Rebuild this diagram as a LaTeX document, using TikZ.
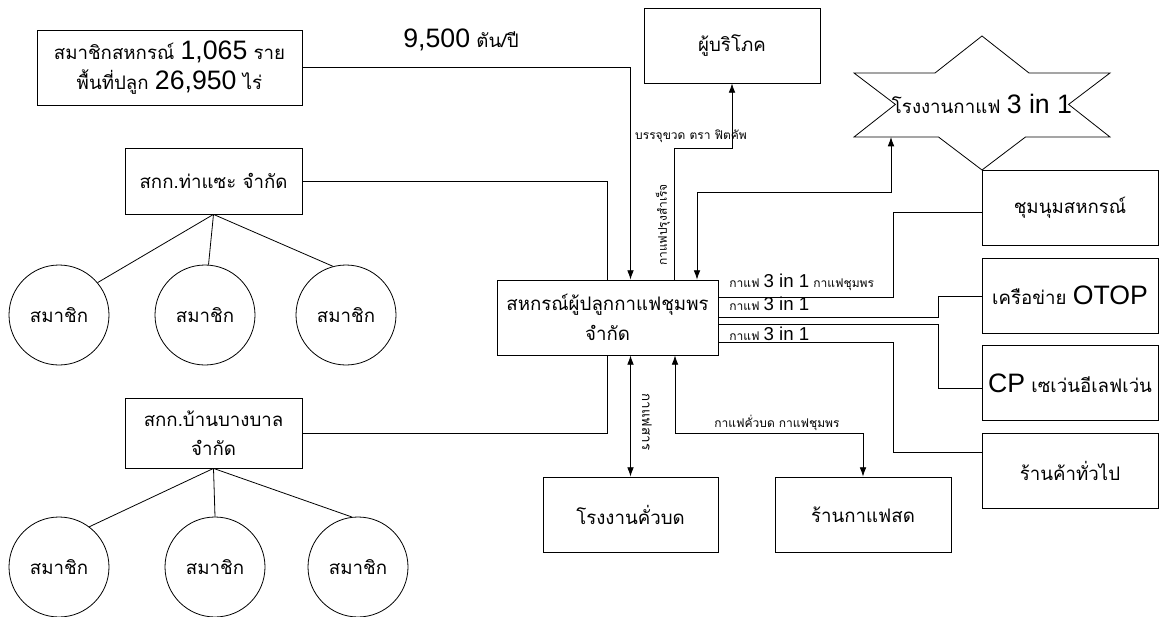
\documentclass[tikz,border=0pt]{standalone}
\usepackage{fontspec}
\setmainfont[Script=Thai]{Loma}
\newfontfamily\arial{Liberation Sans}
\usepackage{tikz}
\usetikzlibrary{arrows.meta,calc}
\newcommand{\eng}[2][20]{{\arial\fontsize{#1}{#1}\selectfont #2}}

\begin{document}
\begin{tikzpicture}[x=0.75pt,y=0.75pt,yscale=-1,xscale=1,
	line width=0.6pt, >={Latex[length=7pt,width=5pt]},
	box/.style={draw, rectangle, inner sep=0pt, align=center, font=\fontsize{14}{22}\selectfont},
	member/.style={draw, circle, minimum size=75pt, inner sep=0pt, font=\fontsize{14}{18}\selectfont},
	lbl/.style={inner sep=0.75pt, font=\fontsize{9}{11}\selectfont}]
	\useasboundingbox (0,0) rectangle (1161,617);
	
	%Shape: Rectangle
	\node[box, minimum width=198.75pt, minimum height=56.25pt] (coopmem) at (169.5,67.5) {สมาชิกสหกรณ์ \eng{1,065} ราย\\พื้นที่ปลูก \eng{26,950} ไร่};
	%Shape: Rectangle
	\node[box, minimum width=165.75pt, minimum height=56.25pt] (central) at (607.5,317.5) {สหกรณ์ผู้ปลูกกาแฟชุมพร\\จำกัด};
	%Shape: Rectangle
	\node[box, minimum width=132pt, minimum height=56.25pt] (consumer) at (732,45.5) {ผู้บริโภค};
	%Shape: Rectangle
	\node[box, minimum width=132.75pt, minimum height=49.5pt] (thasae) at (213.5,181) {สกก\eng[14]{.}ท่าแซะ จำกัด};
	%Shape: Rectangle
	\node[box, minimum width=132.75pt, minimum height=52.5pt] (bangban) at (213.5,433) {สกก\eng[14]{.}บ้านบางบาล\\จำกัด};
	%Shape: Rectangle
	\node[box, minimum width=131.25pt, minimum height=56.25pt] (roaster) at (630.5,514.5) {โรงงานคั่วบด};
	%Shape: Rectangle
	\node[box, minimum width=132pt, minimum height=56.25pt] (cafe) at (863,514.5) {ร้านกาแฟสด};
	%Shape: Rectangle
	\node[box, minimum width=132pt, minimum height=56.25pt] (coop) at (1070,208) {ชุมนุมสหกรณ์};
	%Shape: Rectangle
	\node[box, minimum width=132pt, minimum height=56.25pt] (otop) at (1070,295.5) {เครือข่าย \eng{OTOP}};
	%Shape: Rectangle
	\node[box, minimum width=132pt, minimum height=56.25pt] (cp) at (1070,383) {\eng{CP} เซเว่นอีเลฟเว่น};
	%Shape: Rectangle
	\node[box, minimum width=132pt, minimum height=56.25pt] (retail) at (1070,470.5) {ร้านค้าทั่วไป};
	
	%Shape: Star
	\draw (982,36) -- (1029,73) -- (1110,73) -- (1068.6,104.4) -- (1110,137) -- (1025.5,137) -- (982,170) -- (938.5,137) -- (854,137) -- (895.4,104.4) -- (854,73) -- (935,73) -- cycle ;
	\node[inner sep=0pt, font=\fontsize{14}{18}\selectfont] (plant) at (982,104) {โรงงานกาแฟ \eng{3 in 1}};
	\coordinate (plantbase) at (891,137);
	
	%Shape: Circle
	\node[member] (tsmem1) at (59,315) {สมาชิก};
	\node[member] (tsmem2) at (205,315) {สมาชิก};
	\node[member] (tsmem3) at (346,315) {สมาชิก};
	\node[member] (bbmem1) at (59,567) {สมาชิก};
	\node[member] (bbmem2) at (215,567) {สมาชิก};
	\node[member] (bbmem3) at (358,567) {สมาชิก};
	
	%Straight Lines
	\draw (thasae.south) -- (tsmem1.40) ;
	\draw (thasae.south) -- (tsmem2.86) ;
	\draw (thasae.south) -- (tsmem3.105) ;
	\draw (bangban.south) -- (bbmem1.53) ;
	\draw (bangban.south) -- (bbmem2.90) ;
	\draw (bangban.south) -- (bbmem3.97) ;
	
	%Straight Lines
	\draw[->] (coopmem.east) -| (central.north -| roaster) ;
	\draw (thasae.east) -| (central.north) ;
	\draw (bangban.east) -| (central.south) ;
	
	%Straight Lines
	\coordinate (jcons) at (674,148);
	\draw[->] (central.north -| jcons) |- (jcons -| consumer) -- (consumer.south) ;
	\coordinate (jplant) at (697,192);
	\draw[<->] (plantbase) |- (jplant) -- (jplant |- central.north) ;
	
	%Straight Lines
	\coordinate (jcoop) at (893,212);
	\coordinate (jotop) at (938,296);
	\coordinate (jcp) at (938,388);
	\coordinate (jretail) at (893,452);
	\draw ($(central.east)+(0,-20.5)$) -| (jcoop) -- (jcoop -| coop.west) ;
	\draw ($(central.east)+(0,-0.5)$) -| (jotop) -- (jotop -| otop.west) ;
	\draw ($(central.east)+(0,6.5)$) -| (jcp) -- (jcp -| cp.west) ;
	\draw ($(central.east)+(0,24.5)$) -| (jretail) -- (jretail -| retail.west) ;
	
	%Straight Lines
	\draw[<->] (central.south -| roaster) -- (roaster.north) ;
	\coordinate (jcafe) at (675,433);
	\draw[<->] (central.south -| jcafe) -- (jcafe) -| (cafe.north) ;
	
	% Text Node
	\node[inner sep=0.75pt, font=\fontsize{14}{18}\selectfont] (tonnage) at (461,40) {\eng{9,500} ตัน/ปี};
	% Text Node
	\node[lbl] (bottled) at (691,136) {บรรจุขวด ตรา ฟิตคัพ};
	% Text Node
	\node[lbl, rotate=90] (instant) at (663,225) {กาแฟปรุงสำเร็จ};
	% Text Node
	\node[lbl, anchor=west] (mixcoop) at (728,282) {กาแฟ \eng[14]{3 in 1} กาแฟชุมพร};
	% Text Node
	\node[lbl, anchor=west] (mixotop) at (728,304) {กาแฟ \eng[14]{3 in 1}};
	% Text Node
	\node[lbl, anchor=west] (mixretail) at (728,334) {กาแฟ \eng[14]{3 in 1}};
	% Text Node
	\node[lbl, rotate=-90, font=\fontsize{10}{12}\selectfont] (green) at (647,422) {กาแฟสาร};
	% Text Node
	\node[lbl] (roasted) at (777,423) {กาแฟคั่วบด กาแฟชุมพร};
	
\end{tikzpicture}
\end{document}
